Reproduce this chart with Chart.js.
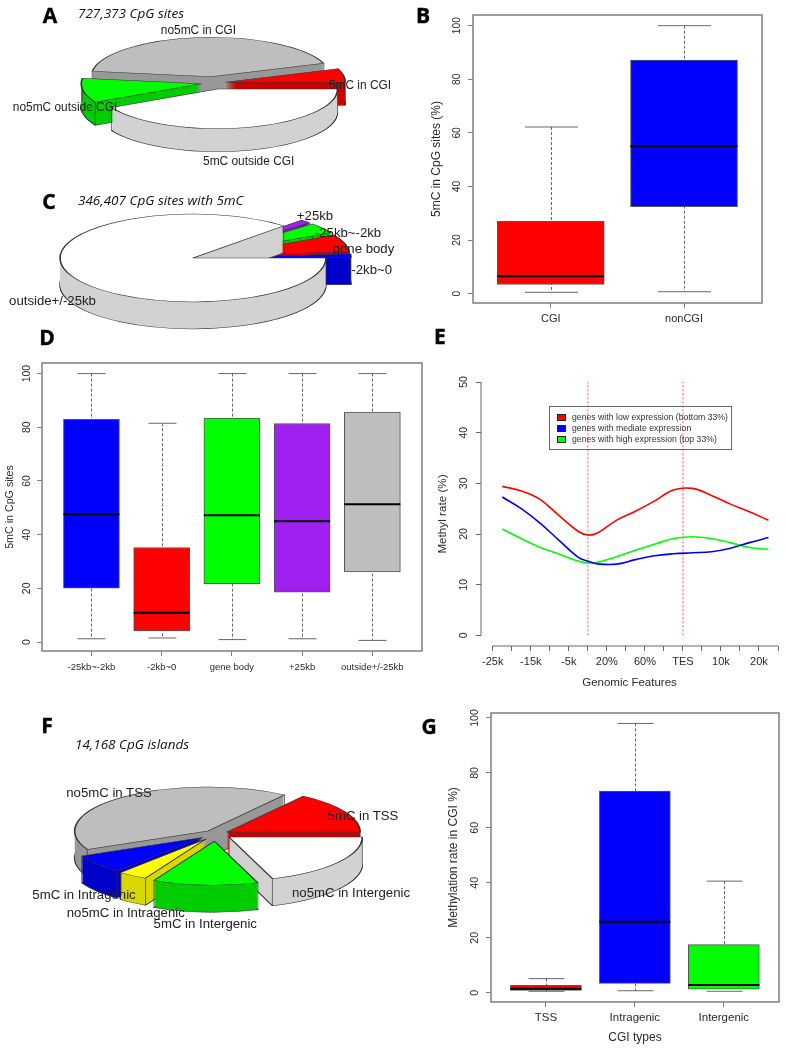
<!DOCTYPE html>
<html>
<head>
<meta charset="utf-8">
<title>CpG methylation panels</title>
<script src="https://cdn.jsdelivr.net/npm/chart.js@4"></script>
<style>
html, body { margin: 0; padding: 0; background: #fff; }
#page { position: relative; width: 786px; height: 1050px; overflow: hidden; }
canvas { position: absolute; }
.t { position: absolute; white-space: nowrap; transform: translate(-50%, -50%); font-family: "Liberation Sans", sans-serif; font-size: 13.2px; color: #222; }
.letter { font-family: "Open Sans", sans-serif; font-weight: 700; font-size: 21px; color: #000; -webkit-text-stroke: 0.4px #000; }
.sub { transform: translate(0, -50%); font-family: "Open Sans", sans-serif; font-style: italic; font-size: 13.5px; color: #111; }
#legendE { position: absolute; left: 549px; top: 406px; width: 181px; height: 42px; border: 1px solid #666; font-family: "Liberation Sans", sans-serif; font-size: 8.7px; color: #333; }
#legendE div { position: absolute; left: 22px; white-space: nowrap; line-height: 10px; }
#legendE i { position: absolute; left: -15px; top: 2px; width: 7px; height: 5px; border: 1px solid #222; }
</style>
</head>
<body>
<div id="page"></div>
<script>
//panel A pie
var pieA_labels = ["5mC outside CGI", "no5mC outside CGI", "no5mC in CGI", "5mC in CGI"];
var pieA_values = [152, 36, 152, 20];

//panel C pie
var pieC_labels = ["outside+/-25kb", "+25kb", "-25kb~-2kb", "gene body", "-2kb~0"];
var pieC_values = [313, 5, 14, 23, 5];

//panel F pie
var pieF_labels = ["no5mC in Intergenic", "5mC in Intergenic", "no5mC in Intragenic", "5mC in Intragenic", "no5mC in TSS", "5mC in TSS"];
var pieF_values = [71, 46, 13, 25, 150, 55];

//panel B boxes
var boxB_labels = ["CGI", "nonCGI"];
var boxB_low = [0.5, 0.7];
var boxB_q1 = [3.4, 32.5];
var boxB_med = [6.5, 55];
var boxB_q3 = [27, 87.2];
var boxB_high = [62.2, 100];

//panel D boxes
var boxD_labels = ["-25kb~-2kb", "-2kb~0", "gene body", "+25kb", "outside+/-25kb"];
var boxD_low = [1.2, 1.5, 0.9, 1.2, 0.6];
var boxD_q1 = [20.1, 4.1, 21.7, 18.6, 26.1];
var boxD_med = [47.6, 10.9, 47.2, 45, 51.3];
var boxD_q3 = [83, 35.2, 83.4, 81.4, 85.7];
var boxD_high = [100, 81.5, 100, 100, 100];

//panel G boxes
var boxG_labels = ["TSS", "Intragenic", "Intergenic"];
var boxG_low = [0.5, 0.7, 0.5];
var boxG_q1 = [0.85, 3.4, 1.3];
var boxG_med = [1.4, 25.8, 2.8];
var boxG_q3 = [2.7, 73.4, 17.5];
var boxG_high = [5.1, 98, 40.6];

var boxTicks = [0, 20, 40, 60, 80, 100];

//panel E lines
var lineX = [0.5, 1.5, 2.5, 3.5, 4.5, 5, 5.5, 6.5, 7.5, 8.5, 9.5, 10.5, 11.5, 12.5, 13.5, 14.5];
var lowExpr = [29.4, 28.5, 26.8, 23.6, 20.5, 19.8, 20.2, 22.7, 24.5, 26.5, 28.7, 29, 27.6, 25.9, 24.4, 22.7];
var midExpr = [27.3, 25, 22.1, 18.7, 15.4, 14.65, 14.1, 14.05, 14.95, 15.7, 16.1, 16.3, 16.5, 17.2, 18.3, 19.3];
var highExpr = [21, 19.1, 17.35, 16, 14.65, 14.3, 14.4, 15.5, 16.8, 18, 19.1, 19.45, 19.1, 18.3, 17.35, 17];
var lineNames = ["genes with low expression (bottom 33%)", "genes with mediate expression", "genes with high expression (top 33%)"];
var lineColors = ["#ff0000", "#0000ff", "#00ff00"];
var featureTicks = ["-25k", "", "-15k", "", "-5k", "", "20%", "", "60%", "", "TES", "", "10k", "", "20k", ""];
var markerPositions = [5, 10];
var rateTicks = [0, 10, 20, 30, 40, 50];

Chart.defaults.animation = false;
Chart.defaults.responsive = false;
Chart.defaults.font.family = "'Liberation Sans', sans-serif";
Chart.defaults.color = "#2b2b2b";

var page = document.getElementById("page");

function addCanvas(left, top, w, h) {
    var c = document.createElement("canvas");
    c.width = w;
    c.height = h;
    c.style.left = left + "px";
    c.style.top = top + "px";
    c.style.width = w + "px";
    c.style.height = h + "px";
    page.appendChild(c);
    return c;
}

function addText(text, x, y, cls, size) {
    var d = document.createElement("div");
    d.className = "t" + (cls ? " " + cls : "");
    d.textContent = text;
    d.style.left = x + "px";
    d.style.top = y + "px";
    if (size) d.style.fontSize = size + "px";
    page.appendChild(d);
}

//tilted pie: squashes the library's arcs and stacks them for the wall
function pie3d(k, depth, explode, sides) {
    return {
        id: "pie3d",
        beforeDatasetsDraw: function (chart) {
            var ctx = chart.ctx;
            var arcs = chart.getDatasetMeta(0).data.map(function (a, i) {
                return { arc: a, i: i, mid: (a.startAngle + a.endAngle) / 2 };
            });
            arcs.sort(function (p, q) { return Math.sin(p.mid) - Math.sin(q.mid); });
            var cx = arcs[0].arc.x, cy = arcs[0].arc.y;
            ctx.save();
            ctx.translate(cx, cy);
            ctx.scale(1, k);
            ctx.translate(-cx, -cy);
            arcs.forEach(function (p) {
                var a = p.arc;
                ctx.save();
                ctx.translate(Math.cos(p.mid) * explode[p.i], Math.sin(p.mid) * explode[p.i]);
                for (var d = depth; d > 0; d--) {
                    var wall = Object.create(a);
                    wall.options = Object.assign({}, a.options, {
                        backgroundColor: sides[p.i],
                        borderColor: "#333",
                        borderWidth: d === depth ? 1.6 : 0
                    });
                    ctx.save();
                    ctx.translate(0, d / k);
                    wall.draw(ctx);
                    ctx.restore();
                }
                ctx.strokeStyle = "#333";
                ctx.lineWidth = 1;
                [a.startAngle, a.endAngle].forEach(function (ang) {
                    var x = a.x + Math.cos(ang) * a.outerRadius;
                    var y = a.y + Math.sin(ang) * a.outerRadius;
                    ctx.beginPath();
                    ctx.moveTo(x, y);
                    ctx.lineTo(x, y + depth / k);
                    ctx.stroke();
                });
                a.draw(ctx);
                ctx.restore();
            });
            ctx.restore();
            return false;
        }
    };
}

function makePie(cx, cy, radius, labels, values, colors, sides, explode, depth) {
    var w = 420, h = 240;
    var c = addCanvas(Math.round(cx - w / 2), Math.round(cy - h / 2), w, h);
    return new Chart(c, {
        type: "pie",
        data: {
            labels: labels,
            datasets: [{ data: values, backgroundColor: colors, borderColor: "#333", borderWidth: 1.6 }]
        },
        options: {
            rotation: 90,
            radius: radius,
            plugins: { legend: { display: false }, tooltip: { enabled: false } }
        },
        plugins: [pie3d(0.33, depth, explode, sides)]
    });
}

//whiskers, staples, medians and the frame of an R style boxplot
function boxExtras(low, med, high, capW) {
    return {
        id: "boxExtras",
        beforeDatasetsDraw: function (chart) {
            var ctx = chart.ctx, xs = chart.scales.x, ys = chart.scales.y;
            ctx.save();
            ctx.strokeStyle = "#666";
            ctx.lineWidth = 1;
            low.forEach(function (v, i) {
                var x = Math.round(xs.getPixelForValue(i + 1)) + 0.5;
                var top = ys.getPixelForValue(high[i]), bot = ys.getPixelForValue(v);
                ctx.setLineDash([3, 2]);
                ctx.beginPath();
                ctx.moveTo(x, top);
                ctx.lineTo(x, bot);
                ctx.stroke();
                ctx.setLineDash([]);
                ctx.beginPath();
                ctx.moveTo(x - capW / 2, top);
                ctx.lineTo(x + capW / 2, top);
                ctx.moveTo(x - capW / 2, bot);
                ctx.lineTo(x + capW / 2, bot);
                ctx.stroke();
            });
            ctx.restore();
        },
        afterDatasetsDraw: function (chart) {
            var ctx = chart.ctx, xs = chart.scales.x, ys = chart.scales.y;
            var meta = chart.getDatasetMeta(0);
            ctx.save();
            ctx.strokeStyle = "#000";
            ctx.lineWidth = 2;
            med.forEach(function (v, i) {
                var x = xs.getPixelForValue(i + 1), half = meta.data[i].width / 2;
                var y = ys.getPixelForValue(v);
                ctx.beginPath();
                ctx.moveTo(x - half, y);
                ctx.lineTo(x + half, y);
                ctx.stroke();
            });
            var a = chart.chartArea;
            ctx.strokeStyle = "#7f7f7f";
            ctx.lineWidth = 1.5;
            ctx.strokeRect(a.left, a.top, a.right - a.left, a.bottom - a.top);
            ctx.restore();
        }
    };
}

function fixedTicks(list) {
    return function (axis) {
        axis.ticks = list.map(function (v) { return { value: v }; });
    };
}

function makeBox(p) {
    var left = Math.floor(p.yTitleX - 8), top = p.t - 14, right = p.r + 6, bottom = p.b + 44;
    var c = addCanvas(left, top, right - left, bottom - top);
    var xVals = p.labels.map(function (l, i) { return i + 1; });
    var titleLh = p.titleSize * 1.2;
    var yScale = {
        min: p.yMin,
        max: p.yMax,
        border: { display: false },
        grid: { drawOnChartArea: false, tickLength: 5, tickColor: "#7f7f7f", lineWidth: 1 },
        ticks: { minRotation: 90, maxRotation: 90, crossAlign: "center", autoSkip: false, padding: p.yPad, font: { size: p.tickSize } },
        afterBuildTicks: fixedTicks(boxTicks),
        afterFit: function (s) { s.width = p.l - left; },
        title: {
            display: true,
            text: p.yTitle,
            font: { size: p.titleSize },
            padding: { top: p.yTitleX - left - titleLh / 2, bottom: 0 }
        }
    };
    var xScale = {
        type: "linear",
        offset: false,
        min: p.xMin,
        max: p.xMax,
        border: { display: false },
        grid: { offset: false, drawOnChartArea: false, tickLength: 5, tickColor: "#7f7f7f", lineWidth: 1 },
        ticks: {
            autoSkip: false, maxRotation: 0, padding: p.xPad, font: { size: p.xTickSize },
            callback: function (v) { return p.labels[v - 1]; }
        },
        afterBuildTicks: fixedTicks(xVals),
        afterFit: function (s) { s.height = bottom - p.b; }
    };
    if (p.xTitle) {
        xScale.title = {
            display: true,
            text: p.xTitle,
            font: { size: p.titleSize },
            padding: { top: 0, bottom: bottom - p.xTitleY - titleLh / 2 }
        };
    }
    return new Chart(c, {
        type: "bar",
        data: {
            datasets: [{
                data: p.labels.map(function (l, i) { return { x: i + 1, y: [p.q1[i], p.q3[i]] }; }),
                backgroundColor: p.colors,
                borderColor: "#555",
                borderWidth: 1,
                borderSkipped: false,
                barThickness: p.boxW
            }]
        },
        options: {
            layout: { padding: { top: p.t - top, right: right - p.r, left: 0, bottom: 0 } },
            plugins: { legend: { display: false }, tooltip: { enabled: false } },
            scales: { x: xScale, y: yScale }
        },
        plugins: [boxExtras(p.low, p.med, p.high, p.capW)]
    });
}

//R draws its axis line only between the outer ticks
var rAxes = {
    id: "rAxes",
    afterDraw: function (chart) {
        var ctx = chart.ctx, xs = chart.scales.x, ys = chart.scales.y, a = chart.chartArea;
        ctx.save();
        ctx.strokeStyle = "#666";
        ctx.lineWidth = 1;
        ctx.beginPath();
        ctx.moveTo(a.left, ys.getPixelForValue(rateTicks[0]));
        ctx.lineTo(a.left, ys.getPixelForValue(rateTicks[rateTicks.length - 1]));
        ctx.moveTo(xs.getPixelForValue(0), a.bottom);
        ctx.lineTo(xs.getPixelForValue(featureTicks.length - 1), a.bottom);
        ctx.stroke();
        ctx.restore();
    }
};

function toPoints(ys) {
    return lineX.map(function (x, i) { return { x: x, y: ys[i] }; });
}

function makeLines() {
    var left = 435, top = 368, right = 783, bottom = 693;
    var plotL = 481, plotT = 382, plotR = 778, plotB = 646;
    var c = addCanvas(left, top, right - left, bottom - top);
    var sets = [lowExpr, midExpr, highExpr].map(function (ys, i) {
        return {
            data: toPoints(ys),
            borderColor: lineColors[i],
            borderWidth: 1.6,
            pointRadius: 0,
            tension: 0.4
        };
    });
    markerPositions.forEach(function (m) {
        sets.push({
            data: [{ x: m, y: rateTicks[0] }, { x: m, y: rateTicks[rateTicks.length - 1] }],
            borderColor: "rgba(240,70,80,0.75)",
            borderWidth: 1.2,
            borderDash: [2, 2],
            pointRadius: 0
        });
    });
    return new Chart(c, {
        type: "line",
        data: { datasets: sets },
        options: {
            layout: { padding: { top: plotT - top, right: right - plotR, left: 0, bottom: 0 } },
            plugins: { legend: { display: false }, tooltip: { enabled: false } },
            scales: {
                x: {
                    type: "linear",
                    min: -0.62,
                    max: 15,
                    border: { display: false },
                    grid: { drawOnChartArea: false, tickLength: 5, tickColor: "#666" },
                    ticks: {
                        autoSkip: false, maxRotation: 0, padding: 4, font: { size: 11 },
                        callback: function (v) { return featureTicks[v]; }
                    },
                    afterBuildTicks: fixedTicks(featureTicks.map(function (l, i) { return i; })),
                    afterFit: function (s) { s.height = bottom - plotB; },
                    title: { display: true, text: "Genomic Features", font: { size: 11.5 }, padding: { top: 0, bottom: 3 } }
                },
                y: {
                    min: -2.1,
                    max: 50,
                    border: { display: false },
                    grid: { drawOnChartArea: false, tickLength: 5, tickColor: "#666" },
                    ticks: { minRotation: 90, maxRotation: 90, crossAlign: "center", autoSkip: false, padding: 6, font: { size: 10.5 } },
                    afterBuildTicks: fixedTicks(rateTicks),
                    afterFit: function (s) { s.width = plotL - left; },
                    title: { display: true, text: "Methyl rate (%)", font: { size: 11.7 }, padding: { top: 1, bottom: 0 } }
                }
            }
        },
        plugins: [rAxes]
    });
}

var RED = "#ff0000", BLUE = "#0000ff", GREEN = "#00ff00", PURPLE = "#a020f0", GREY = "#bebebe", YELLOW = "#ffff00", WHITE = "#ffffff";
var RED2 = "#cd0000", BLUE2 = "#0000cd", GREEN2 = "#00cd00", PURPLE2 = "#7d1ac0", GREY2 = "#989898", YELLOW2 = "#d8d800", WHITE2 = "#d2d2d2";

makePie(212.7, 83.3, 120, pieA_labels, pieA_values,
    [WHITE, GREEN, GREY, RED], [WHITE2, GREEN2, GREY2, RED2], [18.7, 12, 18.7, 12.5], 23);
makePie(193.3, 258.3, 133, pieC_labels, pieC_values,
    [WHITE, PURPLE, GREEN, RED, BLUE], [WHITE2, PURPLE2, GREEN2, RED2, BLUE2], [0, 25, 25, 25, 25], 27);
makePie(216.3, 834, 133.3, pieF_labels, pieF_values,
    [WHITE, GREEN, YELLOW, BLUE, GREY, RED], [WHITE2, GREEN2, YELLOW2, BLUE2, GREY2, RED2], [16, 22, 18, 17, 12.3, 12.3], 27);

makeBox({
    l: 473, t: 15, r: 762, b: 303, yMin: -3.5, yMax: 104, xMin: 0.417, xMax: 2.585,
    labels: boxB_labels, low: boxB_low, q1: boxB_q1, med: boxB_med, q3: boxB_q3, high: boxB_high,
    colors: [RED, BLUE], boxW: 107, capW: 53,
    yTitle: "5mC in CpG sites (%)", yTitleX: 437, titleSize: 12, tickSize: 10.3, xTickSize: 11,
    yPad: 2, xPad: 4
});
makeBox({
    l: 42, t: 363, r: 422, b: 651, yMin: -3.35, yMax: 103.95, xMin: 0.296, xMax: 5.707,
    labels: boxD_labels, low: boxD_low, q1: boxD_q1, med: boxD_med, q3: boxD_q3, high: boxD_high,
    colors: [BLUE, RED, GREEN, PURPLE, GREY], boxW: 56, capW: 28,
    yTitle: "5mC in CpG sites", yTitleX: 10, titleSize: 10.7, tickSize: 10.5, xTickSize: 9.5,
    yPad: 1, xPad: 6
});
makeBox({
    l: 491, t: 713, r: 779, b: 1002, yMin: -3.4, yMax: 101.8, xMin: 0.383, xMax: 3.62,
    labels: boxG_labels, low: boxG_low, q1: boxG_q1, med: boxG_med, q3: boxG_q3, high: boxG_high,
    colors: [RED, BLUE, GREEN], boxW: 71, capW: 36,
    yTitle: "Methylation rate in CGI %)", yTitleX: 454, titleSize: 12, tickSize: 10.7, xTickSize: 11.5,
    yPad: 2.5, xPad: 4, xTitle: "CGI types", xTitleY: 1038
});
makeLines();

//legend of panel E
var legendE = document.createElement("div");
legendE.id = "legendE";
lineNames.forEach(function (name, i) {
    var row = document.createElement("div");
    row.style.top = (5 + i * 11) + "px";
    row.textContent = name;
    var sw = document.createElement("i");
    sw.style.background = lineColors[i];
    row.appendChild(sw);
    legendE.appendChild(row);
});
page.appendChild(legendE);

//panel letters and captions
addText("A", 50, 15, "letter");
addText("B", 423, 15, "letter");
addText("C", 49, 201, "letter");
addText("D", 47, 337, "letter");
addText("E", 440, 336, "letter");
addText("F", 47, 725, "letter");
addText("G", 429, 726, "letter");
addText("727,373 CpG sites", 78, 13, "sub");
addText("346,407 CpG sites with 5mC", 78, 200, "sub");
addText("14,168 CpG islands", 75, 744, "sub");

//pie labels
addText(pieA_labels[2], 198.5, 30, "", 11.9);
addText(pieA_labels[3], 360, 85, "", 11.9);
addText(pieA_labels[1], 65, 107, "", 11.9);
addText(pieA_labels[0], 248.7, 160.7, "", 11.9);
addText(pieC_labels[1], 315, 215);
addText(pieC_labels[2], 348, 231.7);
addText(pieC_labels[3], 363.5, 248.3);
addText(pieC_labels[4], 371.7, 269.3);
addText(pieC_labels[0], 52.5, 300);
addText(pieF_labels[4], 109, 792.3);
addText(pieF_labels[5], 363, 815);
addText(pieF_labels[0], 351, 891.7);
addText(pieF_labels[1], 205.3, 923.3);
addText(pieF_labels[2], 125.8, 911.7);
addText(pieF_labels[3], 84, 894);
</script>
</body>
</html>
